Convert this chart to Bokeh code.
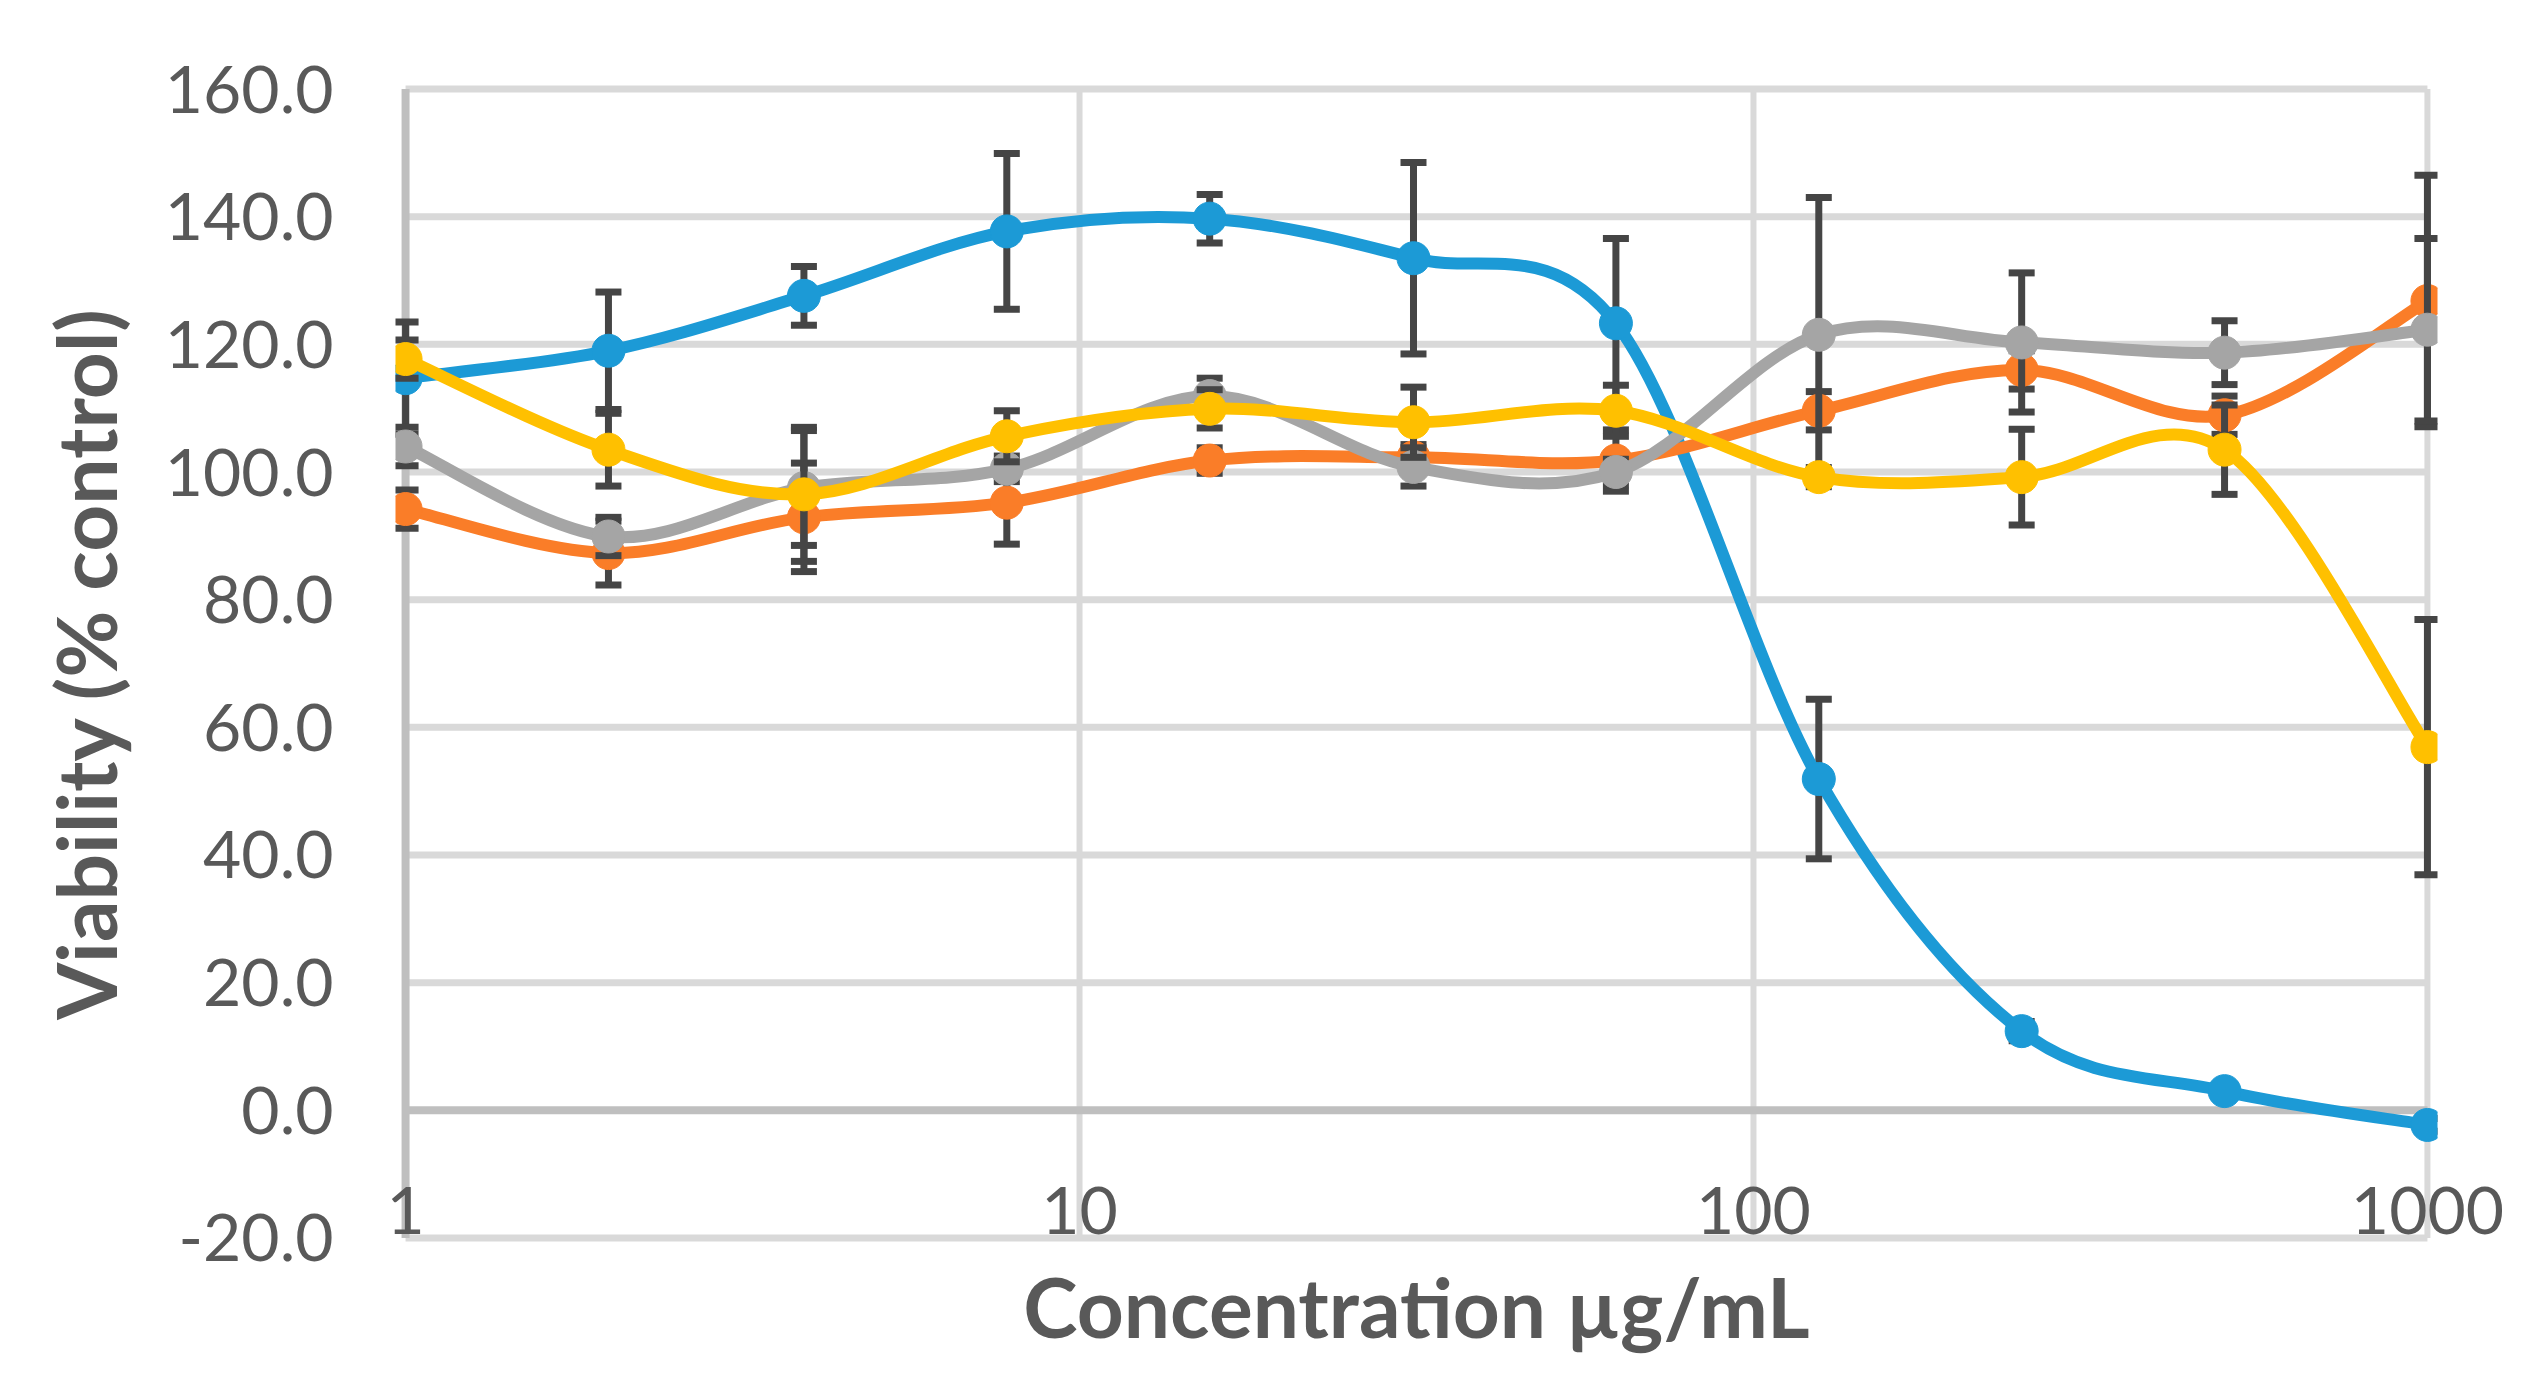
import numpy as np
from bokeh.plotting import figure
from bokeh.models import Range1d, FixedTicker
from bokeh.embed import file_html
from bokeh.resources import INLINE

# ---------------- data ----------------
conc = [1, 2, 3.9, 7.8, 15.6, 31.3, 62.5, 125, 250, 500, 1000]

blue_mean = [114.7, 119.0, 127.6, 137.7, 139.7, 133.5, 123.3, 51.9, 12.4, 3.0, -2.3]
blue_err = [8.8, 9.2, 4.6, 12.2, 3.8, 15.0, 13.3, 12.5, 1.5, 1.0, 1.0]

orange_mean = [94.2, 87.3, 92.9, 95.2, 101.8, 102.3, 101.8, 109.6, 116.0, 108.9, 126.8]
orange_err = [3.0, 5.0, 8.5, 6.5, 2.0, 2.0, 4.8, 3.0, 3.0, 3.0, 19.7]

gray_mean = [104.0, 89.9, 97.5, 100.5, 111.9, 100.8, 100.0, 121.5, 120.3, 118.7, 122.3]
gray_err = [3.0, 3.0, 9.0, 2.0, 2.8, 3.0, 2.0, 21.5, 10.9, 5.0, 14.3]

yellow_mean = [117.7, 103.5, 96.5, 105.6, 109.9, 107.8, 109.6, 99.2, 99.2, 103.5, 56.9]
yellow_err = [3.0, 5.7, 10.5, 4.0, 3.0, 5.5, 4.0, 1.5, 7.5, 7.0, 20.0]

x_ticks = [1, 10, 100, 1000]
x_tick_labels = ["1", "10", "100", "1000"]
y_ticks = [-20, 0, 20, 40, 60, 80, 100, 120, 140, 160]
y_tick_labels = ["-20.0", "0.0", "20.0", "40.0", "60.0", "80.0", "100.0", "120.0", "140.0", "160.0"]

x_title = "Concentration µg/mL"
y_title = "Viability (% control)"

# ---------------- styling ----------------
FONT = "Lato"
LABEL_COLOR = "#595959"
GRID_COLOR = "#D9D9D9"
AXIS_COLOR = "#BFBFBF"
ERR_COLOR = "#454545"

series = [
    (blue_mean, blue_err, "#1C9AD6"),
    (orange_mean, orange_err, "#FA7D28"),
    (gray_mean, gray_err, "#A5A5A5"),
    (yellow_mean, yellow_err, "#FFC000"),
]

# screen aspect (pixels per decade / per unit) used for Excel-like smoothing
DEC_PX = 674.0
UNIT_PX = 6.383

x_lo, x_hi = x_ticks[0], x_ticks[-1]
y_lo, y_hi = y_ticks[0], y_ticks[-1]
pad_x = 1.035
pad_y = 1.5

p = figure(
    output_backend="svg",
    toolbar_location=None,
    x_axis_type="log",
    x_range=Range1d(x_lo / pad_x, x_hi * pad_x),
    y_range=Range1d(y_lo - pad_y, y_hi + pad_y),
    width=2518,
    height=1375,
    frame_width=2042,
    frame_height=1168,
    min_border_left=395,
    min_border_top=79,
    min_border_right=81,
    min_border_bottom=128,
)
p.outline_line_color = None
p.background_fill_color = "white"
p.border_fill_color = "white"
p.xgrid.visible = False
p.ygrid.visible = False

# --- axes ---
xa = p.xaxis[0]
xa.ticker = FixedTicker(ticks=x_ticks, minor_ticks=[])
xa.major_label_overrides = {t: l for t, l in zip(x_ticks, x_tick_labels)}
xa.axis_line_color = None
xa.major_tick_line_color = None
xa.minor_tick_line_color = None
xa.major_tick_in = 0
xa.major_tick_out = 0
xa.major_label_standoff = -61
xa.major_label_text_font = FONT
xa.major_label_text_font_size = "66px"
xa.major_label_text_color = LABEL_COLOR
xa.axis_label = x_title
xa.axis_label_text_font = FONT
xa.axis_label_text_font_style = "bold"
xa.axis_label_text_font_size = "82px"
xa.axis_label_text_color = LABEL_COLOR
xa.axis_label_standoff = 20

ya = p.yaxis[0]
ya.ticker = FixedTicker(ticks=y_ticks, minor_ticks=[])
ya.major_label_overrides = {t: l for t, l in zip(y_ticks, y_tick_labels)}
ya.axis_line_color = None
ya.major_tick_line_color = None
ya.minor_tick_line_color = None
ya.major_tick_in = 0
ya.major_tick_out = 0
ya.major_label_standoff = 62
ya.major_label_text_font = FONT
ya.major_label_text_font_size = "66px"
ya.major_label_text_color = LABEL_COLOR
ya.axis_label = y_title
ya.axis_label_text_font = FONT
ya.axis_label_text_font_style = "bold"
ya.axis_label_text_font_size = "82px"
ya.axis_label_text_color = LABEL_COLOR
ya.axis_label_standoff = 28

# --- gridlines (drawn within the plot area only) ---
h_grid = [t for t in y_ticks if t != 0]
p.segment(x0=[x_lo] * len(h_grid), x1=[x_hi] * len(h_grid), y0=h_grid, y1=h_grid,
          line_color=GRID_COLOR, line_width=7)
v_grid = x_ticks[1:]
p.segment(x0=v_grid, x1=v_grid, y0=[y_lo] * len(v_grid), y1=[y_hi] * len(v_grid),
          line_color=GRID_COLOR, line_width=6)
# axis lines: horizontal at 0, vertical at x=1
p.segment(x0=[x_lo], x1=[x_hi], y0=[0], y1=[0], line_color=AXIS_COLOR, line_width=8)
p.segment(x0=[x_lo], x1=[x_lo], y0=[y_lo], y1=[y_hi], line_color=AXIS_COLOR, line_width=8)


def smooth(xs, ys):
    u = np.log10(np.asarray(xs, float)) * DEC_PX
    v = np.asarray(ys, float) * UNIT_PX
    up = np.concatenate([[u[0]], u, [u[-1]]])
    vp = np.concatenate([[v[0]], v, [v[-1]]])
    out = {k: [] for k in ("x0", "y0", "x1", "y1", "cx0", "cy0", "cx1", "cy1")}
    for i in range(len(u) - 1):
        p0u, p1u, p2u, p3u = up[i], up[i + 1], up[i + 2], up[i + 3]
        p0v, p1v, p2v, p3v = vp[i], vp[i + 1], vp[i + 2], vp[i + 3]
        c1u = p1u + (p2u - p0u) / 6.0
        c1v = p1v + (p2v - p0v) / 6.0
        c2u = p2u - (p3u - p1u) / 6.0
        c2v = p2v - (p3v - p1v) / 6.0
        out["x0"].append(10 ** (p1u / DEC_PX)); out["y0"].append(p1v / UNIT_PX)
        out["x1"].append(10 ** (p2u / DEC_PX)); out["y1"].append(p2v / UNIT_PX)
        out["cx0"].append(10 ** (c1u / DEC_PX)); out["cy0"].append(c1v / UNIT_PX)
        out["cx1"].append(10 ** (c2u / DEC_PX)); out["cy1"].append(c2v / UNIT_PX)
    return out


for mean, err, color in series:
    lo = [m - e for m, e in zip(mean, err)]
    hi = [m + e for m, e in zip(mean, err)]
    p.segment(x0=conc, x1=conc, y0=lo, y1=hi, line_color=ERR_COLOR, line_width=7)
    p.scatter(x=conc + conc, y=lo + hi, marker="dash", size=26,
              line_color=ERR_COLOR, line_width=7)
    b = smooth(conc, mean)
    p.bezier(line_color=color, line_width=12, line_cap="round", **b)
    p.scatter(x=conc, y=mean, marker="circle", size=33,
              fill_color=color, line_color=color, line_width=1)

open("out.html", "w").write(file_html(p, INLINE))
